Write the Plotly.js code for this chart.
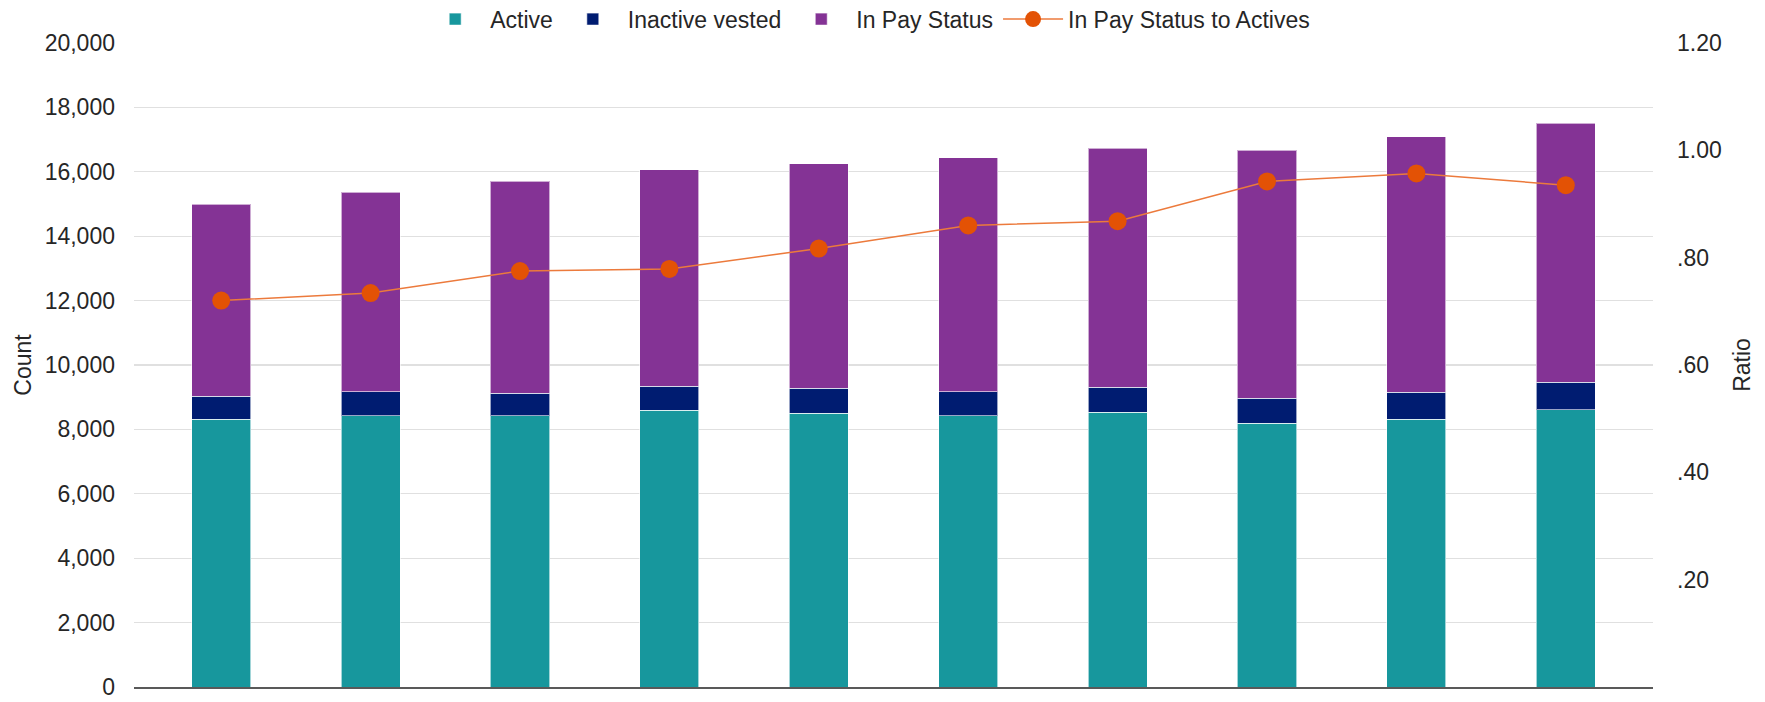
<!DOCTYPE html>
<html>
<head>
<meta charset="utf-8">
<script src="https://cdn.plot.ly/plotly-3.0.1.min.js"></script>
<style>
  html, body { margin: 0; padding: 0; background: #ffffff; }
  #chart { width: 1765px; height: 702px; }
</style>
</head>
<body>
<div id="chart"></div>
<script>
// Categories (x tick labels are not shown in the reference)
const categories = ["1", "2", "3", "4", "5", "6", "7", "8", "9", "10"];

// Series values
const active         = [8320, 8420, 8420, 8600, 8500, 8420, 8530, 8190, 8320, 8610];
const inactiveVested = [712, 754, 702, 743, 785, 754, 785, 775, 827, 849];
const inPayStatus    = [5968, 6191, 6584, 6717, 6965, 7264, 7409, 7708, 7946, 8050];
const ratio          = [0.720, 0.734, 0.775, 0.779, 0.817, 0.860, 0.868, 0.942, 0.957, 0.935];

// Right axis tick labels
const ratioTickVals = [0.2, 0.4, 0.6, 0.8, 1.0, 1.2];
const ratioTickText = [".20", ".40", ".60", ".80", "1.00", "1.20"];

const FONT = "Liberation Sans, Arial, Helvetica, sans-serif";
const TEXT = "#262626";

const barLine = { color: "rgba(255,255,255,0.6)", width: 1 };

const traces = [
  { type: "bar", name: "Active", x: categories, y: active,
    marker: { color: "#17979D", line: barLine } },
  { type: "bar", name: "Inactive vested", x: categories, y: inactiveVested,
    marker: { color: "#001C71", line: barLine } },
  { type: "bar", name: "In Pay Status", x: categories, y: inPayStatus,
    marker: { color: "#843395", line: barLine } },
  { type: "scatter", mode: "lines+markers", name: "In Pay Status to Actives",
    x: categories, y: ratio, yaxis: "y2",
    line: { color: "#EC7A3C", width: 1.5 },
    marker: { color: "#E35205", size: 18 } }
];

const layout = {
  width: 1765, height: 702,
  paper_bgcolor: "#ffffff", plot_bgcolor: "#ffffff",
  margin: { l: 134, r: 112, t: 43, b: 15, autoexpand: false },
  barmode: "stack",
  bargap: 0.605,
  font: { family: FONT, size: 23, color: TEXT },
  showlegend: true,
  legend: {
    orientation: "h", x: 0.483, xanchor: "center", y: 1.037, yanchor: "middle",
    font: { family: FONT, size: 23, color: TEXT },
    traceorder: "normal", itemwidth: 60, bgcolor: "rgba(0,0,0,0)"
  },
  xaxis: {
    type: "category",
    showticklabels: false, ticks: "",
    showline: true, linecolor: "#595959", linewidth: 1.5,
    showgrid: false, zeroline: false, fixedrange: true
  },
  yaxis: {
    range: [0, 20000], dtick: 2000, tick0: 0, tickformat: ",d",
    showgrid: true, gridcolor: "#E0E0E0", gridwidth: 1.3,
    zeroline: false, showline: false, ticks: "",
    ticklabelstandoff: 18,
    tickfont: { family: FONT, size: 23, color: TEXT },
    title: { text: "Count", font: { family: FONT, size: 23, color: TEXT }, standoff: 6 },
    automargin: false, fixedrange: true
  },
  yaxis2: {
    overlaying: "y", side: "right",
    range: [0, 1.2],
    tickmode: "array", tickvals: ratioTickVals, ticktext: ratioTickText,
    showgrid: false, zeroline: false, showline: false, ticks: "",
    ticklabelstandoff: 23,
    tickfont: { family: FONT, size: 23, color: TEXT },
    title: { text: "Ratio", font: { family: FONT, size: 23, color: TEXT }, standoff: 13 },
    automargin: false, fixedrange: true
  }
};

Plotly.newPlot("chart", traces, layout, { displayModeBar: false, staticPlot: true });
</script>
</body>
</html>
